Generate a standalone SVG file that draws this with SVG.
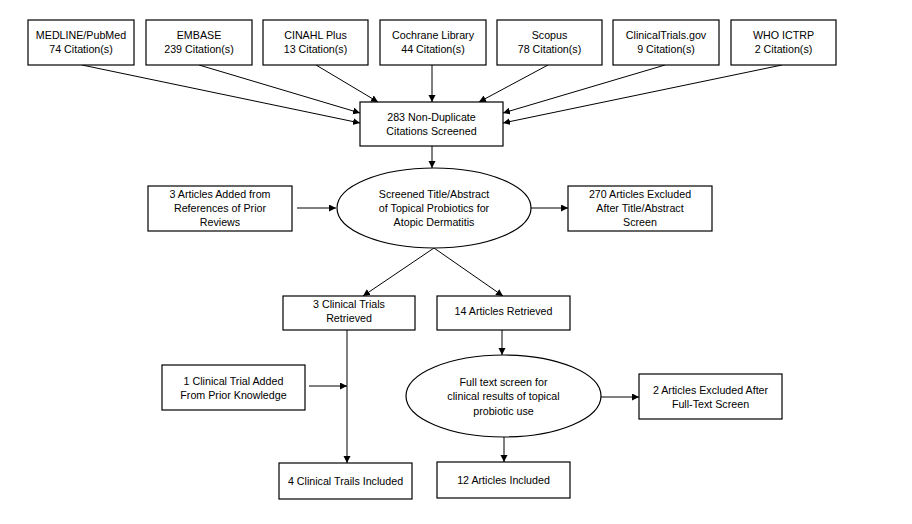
<svg xmlns="http://www.w3.org/2000/svg" width="912" height="524" viewBox="0 0 912 524">
<style>
.box{fill:#fff;stroke:#000;stroke-width:1.2}
.t{font-family:"Liberation Sans",Arial,sans-serif;font-size:10.7px;fill:#000;text-anchor:middle}
.c{stroke:#000;stroke-width:1;fill:none;marker-end:url(#ah)}
</style>
<defs>
<marker id="ah" markerUnits="userSpaceOnUse" markerWidth="8" markerHeight="8" refX="7" refY="3.5" orient="auto">
<path d="M0,0 L7,3.5 L0,7 Z" fill="#000"/>
</marker>
</defs>
<rect width="912" height="524" fill="#fff"/>
<g id="connectors">
<line class="c" x1="82" y1="65" x2="360" y2="123"/>
<line class="c" x1="199" y1="65" x2="360" y2="113"/>
<line class="c" x1="316" y1="65" x2="378" y2="102"/>
<line class="c" x1="432" y1="65" x2="432" y2="102"/>
<line class="c" x1="548" y1="65" x2="479" y2="102"/>
<line class="c" x1="665" y1="65" x2="503" y2="113"/>
<line class="c" x1="782" y1="65" x2="503" y2="123"/>
<line class="c" x1="432" y1="146" x2="432" y2="168"/>
<line class="c" x1="297" y1="208" x2="336" y2="208"/>
<line class="c" x1="531" y1="208" x2="568" y2="208"/>
<line class="c" x1="434" y1="248" x2="363" y2="296"/>
<line class="c" x1="434" y1="248" x2="503" y2="296"/>
<line class="c" x1="347" y1="330" x2="347" y2="463"/>
<line class="c" x1="309" y1="386" x2="347" y2="386"/>
<line class="c" x1="502" y1="330" x2="502" y2="355"/>
<line class="c" x1="601" y1="397" x2="639" y2="397"/>
<line class="c" x1="504" y1="437" x2="504" y2="462"/>
</g>
<g id="medline"><rect class="box" x="28" y="20" width="106" height="45"/><text class="t" x="81" y="39">MEDLINE/PubMed</text><text class="t" x="81" y="53">74 Citation(s)</text></g>
<g id="embase"><rect class="box" x="146" y="20" width="106" height="45"/><text class="t" x="199" y="39">EMBASE</text><text class="t" x="199" y="53">239 Citation(s)</text></g>
<g id="cinahl"><rect class="box" x="263" y="20" width="105" height="45"/><text class="t" x="315.5" y="39">CINAHL Plus</text><text class="t" x="315.5" y="53">13 Citation(s)</text></g>
<g id="cochrane"><rect class="box" x="380" y="20" width="106" height="45"/><text class="t" x="433" y="39">Cochrane Library</text><text class="t" x="433" y="53">44 Citation(s)</text></g>
<g id="scopus"><rect class="box" x="497" y="20" width="105" height="45"/><text class="t" x="549.5" y="39">Scopus</text><text class="t" x="549.5" y="53">78 Citation(s)</text></g>
<g id="clinicaltrials"><rect class="box" x="613" y="20" width="106" height="45"/><text class="t" x="666" y="39">ClinicalTrials.gov</text><text class="t" x="666" y="53">9 Citation(s)</text></g>
<g id="who"><rect class="box" x="731" y="20" width="105" height="45"/><text class="t" x="783.5" y="39">WHO ICTRP</text><text class="t" x="783.5" y="53">2 Citation(s)</text></g>
<g id="nondup"><rect class="box" x="360" y="102" width="143" height="44"/><text class="t" x="431.5" y="121">283 Non-Duplicate</text><text class="t" x="431.5" y="135">Citations Screened</text></g>
<g id="added-refs"><rect class="box" x="148" y="186" width="144" height="45"/><text class="t" x="220" y="198">3 Articles Added from</text><text class="t" x="220" y="212">References of Prior</text><text class="t" x="220" y="226">Reviews</text></g>
<g id="screen1"><ellipse class="box" cx="434" cy="208" rx="97" ry="40"/><text class="t" x="434" y="198">Screened Title/Abstract</text><text class="t" x="434" y="212">of Topical Probiotics for</text><text class="t" x="434" y="226">Atopic Dermatitis</text></g>
<g id="excluded1"><rect class="box" x="568" y="186" width="144" height="45"/><text class="t" x="640" y="198">270 Articles Excluded</text><text class="t" x="640" y="212">After Title/Abstract</text><text class="t" x="640" y="226">Screen</text></g>
<g id="trials-retrieved"><rect class="box" x="283" y="296" width="132" height="34"/><text class="t" x="349" y="308">3 Clinical Trials</text><text class="t" x="349" y="322">Retrieved</text></g>
<g id="articles-retrieved"><rect class="box" x="437" y="296" width="133" height="34"/><text class="t" x="503.5" y="315">14 Articles Retrieved</text></g>
<g id="trial-added"><rect class="box" x="162" y="365" width="143" height="45"/><text class="t" x="233.5" y="385">1 Clinical Trial Added</text><text class="t" x="233.5" y="399">From Prior Knowledge</text></g>
<g id="screen2"><ellipse class="box" cx="503.5" cy="396" rx="97.5" ry="41"/><text class="t" x="503.5" y="386">Full text screen for</text><text class="t" x="503.5" y="400">clinical results of topical</text><text class="t" x="503.5" y="415">probiotic use</text></g>
<g id="excluded2"><rect class="box" x="639" y="374" width="143" height="45"/><text class="t" x="710.5" y="394">2 Articles Excluded After</text><text class="t" x="710.5" y="408">Full-Text Screen</text></g>
<g id="trials-included"><rect class="box" x="279" y="463" width="133" height="36"/><text class="t" x="345.5" y="485">4 Clinical Trails Included</text></g>
<g id="articles-included"><rect class="box" x="437" y="462" width="133" height="36"/><text class="t" x="503.5" y="484">12 Articles Included</text></g>
</svg>
